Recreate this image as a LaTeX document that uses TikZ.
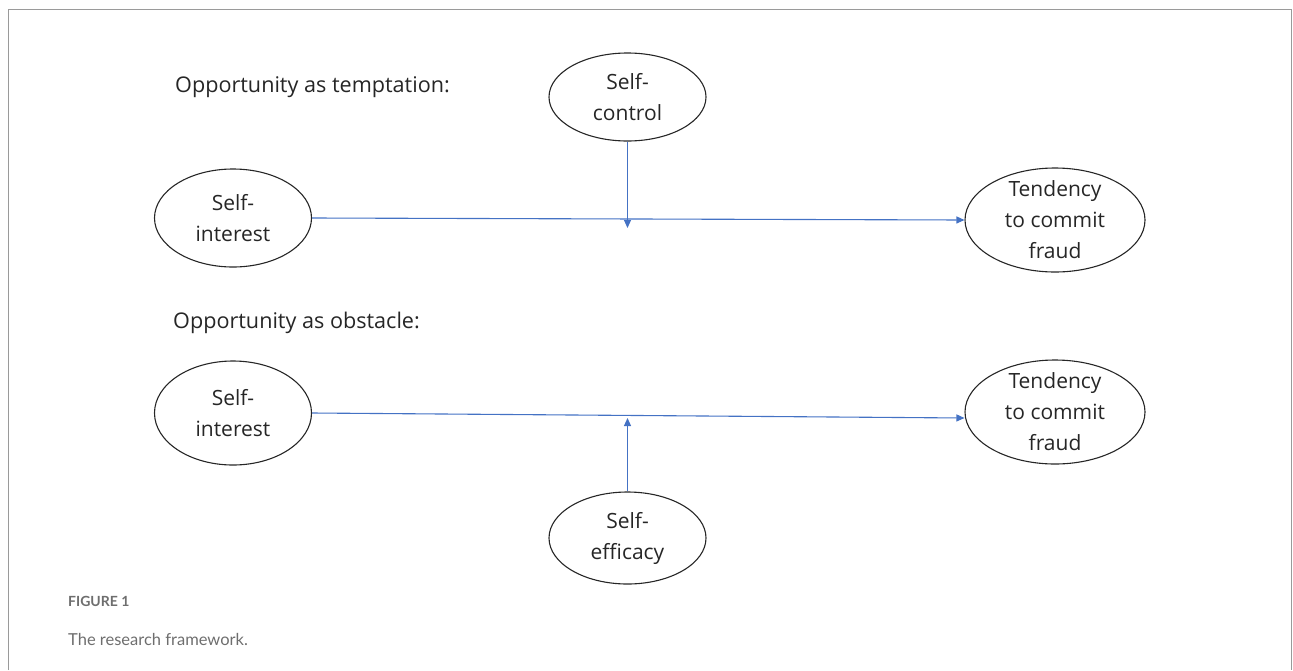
\documentclass[tikz,border=0pt]{standalone}
\usepackage{fontspec}
\setmainfont{Open Sans}
\newfontfamily\capfont{Lato}
\usetikzlibrary{shapes.geometric,arrows.meta}
\definecolor{arrowblue}{HTML}{4472C4}
\definecolor{framegray}{HTML}{9A9A9A}
\definecolor{capgray}{HTML}{6E6E6E}
\tikzset{
  oval/.style={draw=black!85, line width=1.1pt, ellipse, inner sep=0pt},
  ovaltext/.style={font=\fontsize{21}{31}\selectfont, align=center, text=black!85},
  link/.style={draw=arrowblue, line width=1.1pt, -{Triangle[length=8pt,width=7pt]}},
  heading/.style={font=\fontsize{21.6}{25}\selectfont, anchor=base west, inner sep=0pt, text=black!85},
  captext/.style={anchor=base west, inner sep=0pt, text=capgray},
}
\begin{document}
\begin{tikzpicture}[x=1pt,y=-1pt]
\useasboundingbox (0,0) rectangle (1293,670);
% frame (open at bottom)
\draw[framegray, line width=1pt] (8.5,670) -- (8.5,9.5) -- (1291.5,9.5) -- (1291.5,670);

\node[heading] (h1) at (175,92) {Opportunity as temptation:};
\node[heading] (h2) at (173,328) {Opportunity as obstacle:};

% top model
\node[oval, minimum width=157pt, minimum height=88pt, label={[ovaltext]center:Self-\\control}] (sc) at (627.5,97) {};
\node[oval, minimum width=157pt, minimum height=98pt, label={[ovaltext]center:Self-\\interest}] (si1) at (233,218) {};
\node[oval, minimum width=180pt, minimum height=104pt, label={[ovaltext]center:Tendency\\to commit\\fraud}] (td1) at (1055,220) {};

% bottom model
\node[oval, minimum width=157pt, minimum height=104pt, label={[ovaltext]center:Self-\\interest}] (si2) at (233,413) {};
\node[oval, minimum width=180pt, minimum height=104pt, label={[ovaltext]center:Tendency\\to commit\\fraud}] (td2) at (1055,412) {};
\node[oval, minimum width=157pt, minimum height=92pt, label={[ovaltext]center:Self-\\efficacy}] (se) at (627.5,538) {};

\coordinate (m1) at (627.5,228);
\coordinate (m2) at (627.5,418);

\draw[link] (si1.east) -- (td1.west);
\draw[link] (sc.south) -- (m1);
\draw[link] (si2.east) -- (td2.west |- 0,418);
\draw[link] (se.north) -- (m2);

% caption
\node[captext, font=\capfont\bfseries\fontsize{14}{16}\selectfont] (fig) at (68,606) {FIGURE 1};
\node[captext, font=\capfont\fontsize{16.5}{19}\selectfont] (cap) at (68,645) {The research framework.};
\end{tikzpicture}
\end{document}
